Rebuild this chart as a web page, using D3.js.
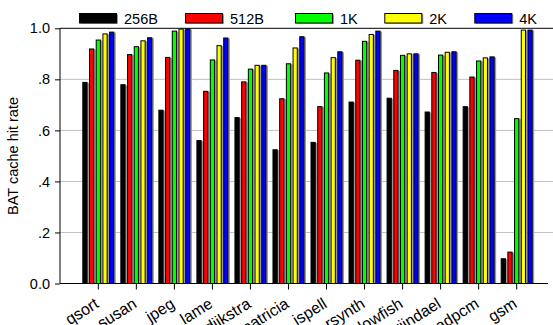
<!DOCTYPE html>
<html><head><meta charset="utf-8">
<script src="https://cdn.jsdelivr.net/npm/d3@7"></script>
<style>body{margin:0;background:#fff}svg{display:block}text{font-family:Arial,"Liberation Sans",sans-serif}</style>
</head><body><div id="c"></div>
<script>
const categories = ["qsort","susan","jpeg","lame","dijkstra","patricia","ispell","rsynth","blowfish","rijndael","adpcm","gsm"];
const seriesNames = ["256B","512B","1K","2K","4K"];
const seriesColors = ["#000000","#ff0000","#00ff00","#ffff00","#0000ff"];
const s256B = [0.788,0.779,0.679,0.560,0.650,0.524,0.553,0.711,0.726,0.672,0.693,0.097];
const s512B = [0.919,0.897,0.886,0.753,0.790,0.724,0.693,0.875,0.835,0.827,0.809,0.123];
const s1K   = [0.954,0.928,0.989,0.876,0.840,0.861,0.825,0.949,0.894,0.895,0.872,0.646];
const s2K   = [0.978,0.951,0.997,0.932,0.855,0.923,0.885,0.976,0.900,0.906,0.884,0.993];
const s4K   = [0.985,0.963,0.998,0.962,0.855,0.967,0.908,0.989,0.900,0.908,0.888,0.993];
const yTicks = [0,0.2,0.4,0.6,0.8,1.0];
const yTickLabels = ["0.0",".2",".4",".6",".8","1.0"];
const series = [s256B,s512B,s1K,s2K,s4K];

(function(){
const W=553,H=325;
const svg=d3.select("#c").append("svg").attr("width",W).attr("height",H);
const pL=60, pR=548, pT=28.3, pB=283.5;
const x=d3.scaleBand().domain(categories).range([79.3,535.7]).padding(0);
const y=d3.scaleLinear().domain([0,1]).range([pB,pT]);
const inner=d3.scaleBand().domain(seriesNames).range([0,32]).paddingInner(0.22).paddingOuter(0);

svg.append("g").selectAll("line").data(yTicks.filter(d=>d>0&&d<1)).join("line")
  .attr("x1",pL).attr("x2",553).attr("y1",d=>y(d)).attr("y2",d=>y(d))
  .attr("stroke","#c0c0c0").attr("stroke-width",1);
svg.append("line").attr("x1",pL).attr("x2",553).attr("y1",y(1)).attr("y2",y(1)).attr("stroke","#000").attr("stroke-width",1);

const off=(38.03-32)/2;
series.forEach((vals,si)=>{
  const g=svg.append("g");
  const data=categories.map((c,i)=>({c,v:vals[i]}));
  g.selectAll("rect.sh").data(data).join("rect").attr("class","sh")
    .attr("x",d=>x(d.c)+off+inner(seriesNames[si])+1.5)
    .attr("y",d=>y(d.v)+0.5).attr("width",inner.bandwidth())
    .attr("height",d=>pB-y(d.v)-0.5).attr("fill","#999");
  g.selectAll("rect.b").data(data).join("rect").attr("class","b")
    .attr("x",d=>x(d.c)+off+inner(seriesNames[si])+0.5)
    .attr("y",d=>y(d.v)).attr("width",inner.bandwidth()-1)
    .attr("height",d=>pB-y(d.v)).attr("fill",seriesColors[si])
    .attr("stroke","#000").attr("stroke-width",1);
});

const ya=d3.axisLeft(y).tickValues(yTicks).tickFormat((d,i)=>yTickLabels[i]).tickSize(5).tickPadding(5);
const yg=svg.append("g").attr("transform",`translate(${pL},0)`).call(ya);
yg.select(".domain").attr("stroke","#000").attr("d",`M0,${pT}V${pB}`);
yg.selectAll("text").attr("font-size",14.5).attr("fill","#000").attr("font-family","Arial, Liberation Sans, sans-serif");
yg.selectAll(".tick line").attr("stroke","#000");

const xa=d3.axisBottom(x).tickSize(6).tickFormat("");
const xg=svg.append("g").attr("transform",`translate(0,${pB})`).call(xa);
xg.select(".domain").attr("d",`M${pL},0H${pR}`).attr("stroke","#000");
xg.selectAll(".tick line").attr("stroke","#000");
svg.append("g").selectAll("text").data(categories).join("text")
  .attr("transform",d=>`translate(${x(d)+x.bandwidth()/2+1.5},${pB+23}) rotate(-32)`)
  .attr("text-anchor","end").attr("font-size",16).attr("fill","#000").text(d=>d);

svg.append("text").attr("transform",`translate(18,156) rotate(-90)`).attr("text-anchor","middle")
  .attr("font-size",14.5).attr("fill","#000").text("BAT cache hit rate");

const legX=[79,185,295,384.3,474.3];
const lg=svg.append("g");
seriesNames.forEach((n,i)=>{
  lg.append("rect").attr("x",legX[i]+1.5).attr("y",14.3).attr("width",37.5).attr("height",9.5).attr("fill","#999");
  lg.append("rect").attr("x",legX[i]+0.5).attr("y",13.5).attr("width",37).attr("height",9.5)
    .attr("fill",seriesColors[i]).attr("stroke","#000").attr("stroke-width",1);
  lg.append("text").attr("x",legX[i]+45).attr("y",23.5).attr("font-size",14.5).attr("fill","#000").text(n);
});
})();
</script></body></html>
